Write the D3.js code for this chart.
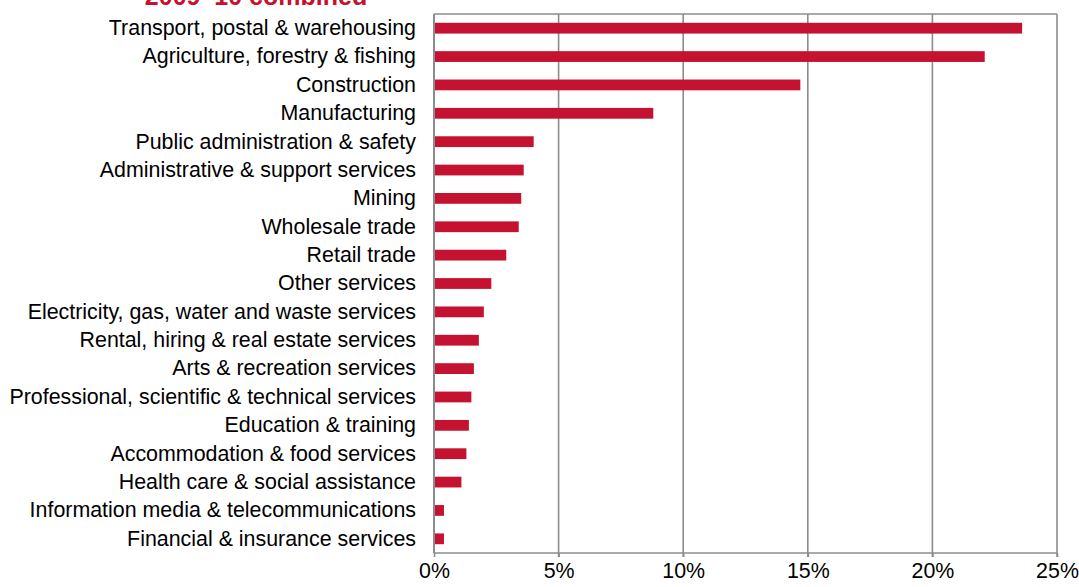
<!DOCTYPE html>
<html>
<head>
<meta charset="utf-8">
<script src="https://cdn.jsdelivr.net/npm/d3@7"></script>
<style>
  html, body { margin: 0; padding: 0; background: #fff; }
  svg { display: block; font-family: "Liberation Sans", Arial, sans-serif; }
</style>
</head>
<body>
<svg id="chart" width="1079" height="587"></svg>
<script>
// Share of industry, 2009–10 combined (%)
const industries = [
  "Transport, postal & warehousing",
  "Agriculture, forestry & fishing",
  "Construction",
  "Manufacturing",
  "Public administration & safety",
  "Administrative & support services",
  "Mining",
  "Wholesale trade",
  "Retail trade",
  "Other services",
  "Electricity, gas, water and waste services",
  "Rental, hiring & real estate services",
  "Arts & recreation services",
  "Professional, scientific & technical services",
  "Education & training",
  "Accommodation & food services",
  "Health care & social assistance",
  "Information media & telecommunications",
  "Financial & insurance services"
];
const shares = [23.6, 22.1, 14.7, 8.8, 4.0, 3.6, 3.5, 3.4, 2.9, 2.3, 2.0, 1.8, 1.6, 1.5, 1.4, 1.3, 1.1, 0.4, 0.4];
const xTicks = [0, 5, 10, 15, 20, 25];
const titleText = "2009–10 combined";

const svg = d3.select("#chart");
const margin = { top: 14, right: 22, bottom: 34, left: 434 };
const W = 1079, H = 587;
const innerW = W - margin.left - margin.right;
const innerH = H - margin.top - margin.bottom;

const x = d3.scaleLinear().domain([0, 25]).range([0, innerW]);
const y = d3.scaleBand().domain(industries).range([0, innerH]).paddingInner(0.62).paddingOuter(0.31);

const g = svg.append("g").attr("transform", `translate(${margin.left},${margin.top})`);

// vertical gridlines
g.append("g")
  .selectAll("line")
  .data(xTicks.slice(1))
  .join("line")
  .attr("x1", d => x(d)).attr("x2", d => x(d))
  .attr("y1", 0).attr("y2", innerH + 4)
  .attr("stroke", "#8c8c8c").attr("stroke-width", 1.6);

// top frame
g.append("line")
  .attr("x1", 0).attr("x2", innerW).attr("y1", 0).attr("y2", 0)
  .attr("stroke", "#8c8c8c").attr("stroke-width", 1.6);

// bars
g.append("g")
  .selectAll("rect")
  .data(industries.map((d, i) => ({ name: d, value: shares[i] })))
  .join("rect")
  .attr("x", x(0))
  .attr("y", d => y(d.name))
  .attr("width", d => x(d.value) - x(0))
  .attr("height", y.bandwidth())
  .attr("fill", "#c41230");

// bottom axis
const xAxis = d3.axisBottom(x)
  .tickValues(xTicks)
  .tickFormat(d => d + "%")
  .tickSize(4)
  .tickPadding(6);
const xa = g.append("g").attr("transform", `translate(0,${innerH})`).call(xAxis);
xa.select(".domain").attr("stroke", "#8c8c8c").attr("stroke-width", 1.6).attr("d", `M0,0H${innerW}`);
xa.selectAll(".tick line").attr("stroke", "#8c8c8c").attr("stroke-width", 1.6);
xa.selectAll(".tick text")
  .attr("font-size", 21.4)
  .attr("fill", "#000")
  .attr("font-family", "Liberation Sans, Arial, sans-serif");

// left axis with category labels
const yAxis = d3.axisLeft(y).tickSize(0).tickPadding(18);
const ya = g.append("g").call(yAxis);
ya.select(".domain").attr("stroke", "#8c8c8c").attr("stroke-width", 2).attr("d", `M0,0V${innerH}`);
ya.selectAll(".tick text")
  .attr("font-size", 21.4)
  .attr("fill", "#000")
  .attr("font-family", "Liberation Sans, Arial, sans-serif");

// title, partly above the top edge of the canvas
svg.append("text")
  .attr("x", 256)
  .attr("y", 5)
  .attr("text-anchor", "middle")
  .attr("font-size", 25)
  .attr("font-weight", "bold")
  .attr("fill", "#c41230")
  .text(titleText);
</script>
</body>
</html>
